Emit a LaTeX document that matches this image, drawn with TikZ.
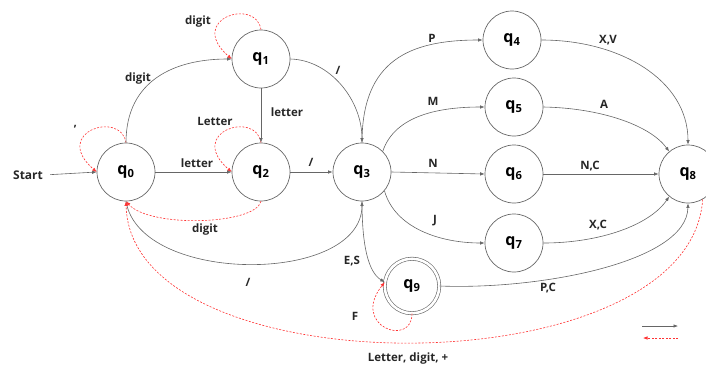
\documentclass[tikz,border=0pt]{standalone}
\usepackage{fontspec}
\setmainfont{Open Sans}
\usetikzlibrary{arrows.meta,calc}
\tikzset{
  st/.style={circle,draw=black!60,line width=0.7pt,minimum size=58pt,inner sep=0pt,
    font=\fontsize{16}{16}\selectfont\bfseries},
  acc/.style={circle,draw=black!60,line width=0.6pt,minimum size=54.5pt,inner sep=0pt,
    double=white,double distance=2.6pt,font=\fontsize{16}{16}\selectfont\bfseries},
  ed/.style={draw=black!60,line width=0.6pt,-{Latex[length=4.5pt,width=3.5pt]}},
  rd/.style={draw=red!80,line width=0.6pt,dash pattern=on 2pt off 1.5pt,
    -{Latex[length=4.5pt,width=3.5pt]}},
  lb/.style={font=\fontsize{11.5}{13}\selectfont\bfseries,text=black!85,inner sep=1pt}
}
\begin{document}
\begin{tikzpicture}[x=1pt,y=-1pt]
\useasboundingbox (0,0) rectangle (706,370);
% states
\node[st] (q0) at (126,172) {q\textsubscript{0}};
\node[st] (q1) at (261,59) {q\textsubscript{1}};
\node[st] (q2) at (261,172) {q\textsubscript{2}};
\node[st] (q3) at (362,172) {q\textsubscript{3}};
\node[st] (q4) at (512,40) {q\textsubscript{4}};
\node[st] (q5) at (514,107) {q\textsubscript{5}};
\node[st] (q6) at (514,174) {q\textsubscript{6}};
\node[st] (q7) at (514,243) {q\textsubscript{7}};
\node[st] (q8) at (688,174) {q\textsubscript{8}};
\node[acc] (q9) at (412,286) {q\textsubscript{9}};
\node[lb,font=\fontsize{12}{13}\selectfont\bfseries] (start) at (28,175) {Start};
% start arrow
\draw[ed,shorten <=6pt] (start.east) -- (q0.west);
% self loops
\draw[rd] (q0.north) .. controls ($(q0)+(-5,-62)$) and ($(q0)+(-75,-40)$) .. (q0.west);
\draw[rd] (q1.north) .. controls ($(q1)+(-5,-62)$) and ($(q1)+(-75,-40)$) .. (q1.west);
\draw[rd] (q2.north) .. controls ($(q2)+(-5,-62)$) and ($(q2)+(-75,-40)$) .. (q2.west);
\draw[rd] (q9.south) .. controls ($(q9)+(0,62)$) and ($(q9)+(-62,40)$) .. (q9.172);
\node[lb] (l0) at (75,129) {'};
\node[lb] (l1) at (198,22) {digit};
\node[lb] (l2) at (215,121) {Letter};
\node[lb] (l9) at (355,316) {F};
% black transitions
\draw[ed] (q0.north) .. controls (126,80) and (175,59) .. (q1.west);
\node[lb] (a1) at (138,79) {digit};
\draw[ed] (q1.south) -- (q2.north);
\node[lb] (a2) at (287,112) {letter};
\draw[ed] (q1.east) .. controls (330,60) and (362,100) .. (q3.north);
\node[lb] (a3) at (338,70) {/};
\draw[ed] (q0.east) -- (q2.west);
\node[lb] (a4) at (197,163) {letter};
\draw[ed] (q2.east) -- (q3.west);
\node[lb] (a5) at (311,162) {/};
\draw[rd] (q2.south) .. controls (255,225) and (150,228) .. (q0.south);
\node[lb] (a6) at (205,230) {digit};
\draw[ed] (q0.south) .. controls (140,285) and (362,285) .. (q3.south);
\node[lb] (a7) at (248,282) {/};
\draw[ed] (q3.south) .. controls (362,245) and (368,272) .. (q9.172);
\node[lb] (a8) at (352,261) {E,S};
\draw[ed] (q9.east) .. controls (540,290) and (687,262) .. (q8.south);
\node[lb] (a9) at (548,288) {P,C};
\draw[ed] (q3.north) .. controls (362,60) and (410,40) .. (q4.west);
\node[lb] (b1) at (432,38) {P};
\draw[ed] (q3.45) .. controls (395,115) and (440,107) .. (q5.west);
\node[lb] (b2) at (433,101) {M};
\draw[ed] (q3.east) -- (q6.west);
\node[lb] (b3) at (433,163) {N};
\draw[ed] (q3.-40) .. controls (395,228) and (440,243) .. (q7.west);
\node[lb] (b4) at (435,221) {J};
\draw[ed] (q4.east) .. controls (620,40) and (688,80) .. (q8.north);
\node[lb] (c1) at (608,40) {X,V};
\draw[ed] (q5.east) .. controls (600,108) and (650,125) .. (q8.130);
\node[lb] (c2) at (604,104) {A};
\draw[ed] (q6.east) -- (q8.west);
\node[lb] (c3) at (590,166) {N,C};
\draw[ed] (q7.east) .. controls (600,243) and (650,225) .. (q8.230);
\node[lb] (c4) at (598,225) {X,C};
% long red return
\draw[rd] (q8.-60) .. controls (690,390) and (130,390) .. (q0.south);
\node[lb] (d1) at (408,359) {Letter, digit, +};
% legend
\coordinate (g1) at (642,326);
\coordinate (g2) at (678,326);
\coordinate (g3) at (678,338);
\coordinate (g4) at (643,338);
\draw[ed] (g1) -- (g2);
\draw[rd] (g3) -- (g4);
\end{tikzpicture}
\end{document}
